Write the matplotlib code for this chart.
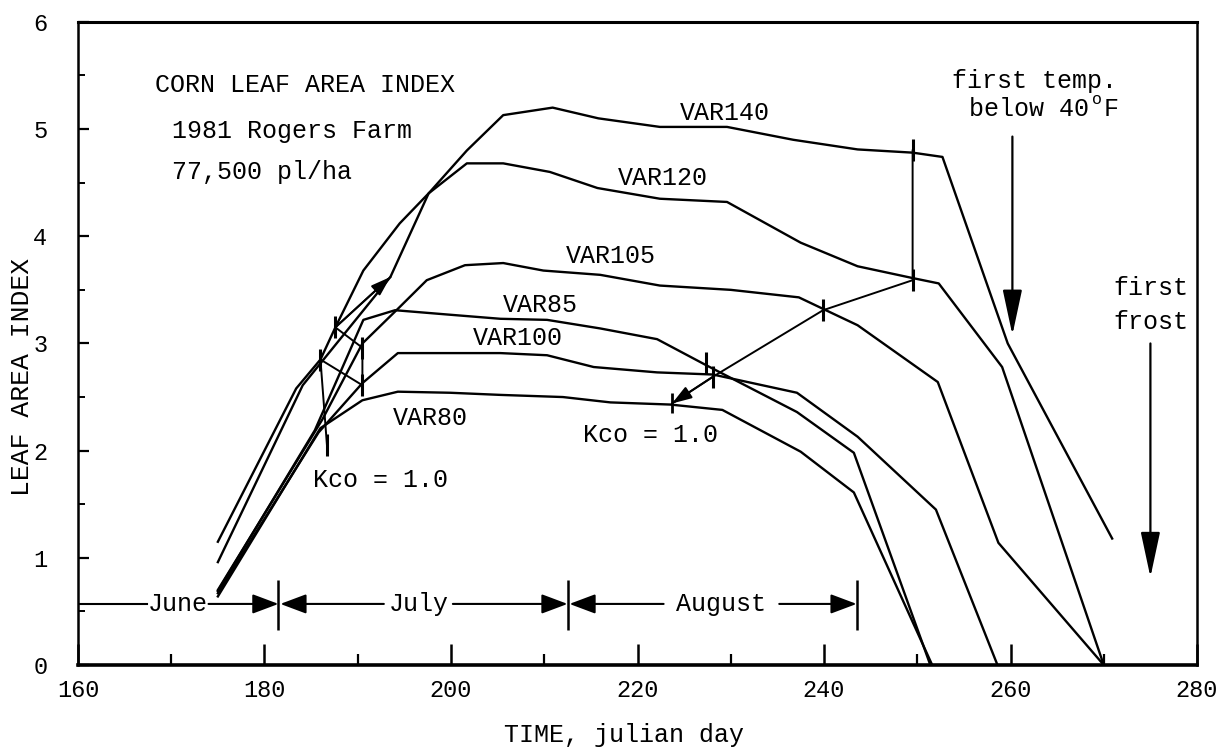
import matplotlib.pyplot as plt
from matplotlib.ticker import MultipleLocator

plt.rcParams['font.family'] = ['Liberation Mono', 'DejaVu Sans Mono']

# leaf area index curves (julian day, LAI)
var140_day = [175, 183.4, 186.0, 187.6, 190.6, 194.5, 197.6, 201.7, 205.6, 210.9, 215.8,
              222.4, 229.6, 236.7, 243.6, 249.5, 252.7, 259.7, 270.9]
var140_lai = [1.15, 2.58, 2.85, 3.15, 3.68, 4.12, 4.40, 4.80, 5.13, 5.20, 5.10,
              5.02, 5.02, 4.90, 4.81, 4.78, 4.74, 3.00, 1.18]

var120_day = [175, 184.1, 193.5, 197.6, 201.7, 205.6, 210.6, 215.7, 222.4, 229.6,
              237.5, 243.6, 249.5, 252.3, 259.1, 270.0]
var120_lai = [0.96, 2.61, 3.62, 4.40, 4.68, 4.68, 4.60, 4.45, 4.35, 4.32,
              3.94, 3.72, 3.61, 3.56, 2.78, 0.0]

var105_day = [175, 186.2, 190.5, 194.5, 197.4, 201.5, 205.6, 209.9, 216.0, 222.4,
              230.0, 237.3, 240.2, 243.6, 252.2, 258.7, 270.0]
var105_lai = [0.70, 2.29, 3.00, 3.34, 3.59, 3.73, 3.75, 3.68, 3.64, 3.54,
              3.50, 3.43, 3.31, 3.17, 2.64, 1.14, 0.0]

var85_day = [175, 185.4, 190.6, 194.0, 199.6, 205.3, 210.3, 216.0, 222.1, 227.3,
             237.1, 243.2, 251.4]
var85_lai = [0.69, 2.19, 3.22, 3.31, 3.27, 3.23, 3.22, 3.14, 3.04, 2.80,
             2.36, 1.98, 0.0]

var100_day = [175, 185.8, 190.5, 194.3, 199.9, 205.3, 210.3, 215.3, 222.1, 228.1,
              237.1, 243.6, 252.0, 258.6]
var100_lai = [0.67, 2.17, 2.63, 2.91, 2.91, 2.91, 2.89, 2.78, 2.73, 2.71,
              2.54, 2.13, 1.45, 0.0]

var80_day = [175, 186.0, 190.5, 194.3, 199.9, 205.3, 212.0, 217.1, 223.5, 229.1,
             237.5, 243.2, 251.6]
var80_lai = [0.64, 2.21, 2.47, 2.55, 2.54, 2.52, 2.50, 2.45, 2.43, 2.38,
             1.99, 1.61, 0.0]

# Kco = 1.0 connector lines
kco_early_day = [186.7, 186.0, 190.5, 190.5, 187.6, 193.5]
kco_early_lai = [2.05, 2.85, 2.61, 2.96, 3.15, 3.62]
kco_late_day = [249.5, 249.5, 239.9, 228.1, 223.7]
kco_late_lai = [4.80, 3.59, 3.31, 2.69, 2.44]

var_names = ['VAR140', 'VAR120', 'VAR105', 'VAR85', 'VAR100', 'VAR80']
var_label_day = [229.4, 222.7, 217.1, 209.6, 207.2, 197.8]
var_label_lai = [5.15, 4.54, 3.82, 3.36, 3.05, 2.30]

month_names = ['June', 'July', 'August']
month_bounds = [160, 181.5, 212.5, 243.5]
month_text_day = [170.7, 196.5, 229.0]
month_gap = [3.3, 3.7, 6.2]  # half width of the gap left for the text
month_y = 0.57

fig = plt.figure(figsize=(12.3, 7.54), dpi=100)
ax = fig.add_axes([0.0634, 0.118, 0.9098, 0.853])

lw = 1.7
curves = [(var140_day, var140_lai), (var120_day, var120_lai), (var105_day, var105_lai),
          (var85_day, var85_lai), (var100_day, var100_lai), (var80_day, var80_lai)]
for d, v in curves:
    ax.plot(d, v, color='black', lw=lw, solid_joinstyle='round')

for name, d, v in zip(var_names, var_label_day, var_label_lai):
    ax.text(d, v, name, fontsize=18, ha='center', va='center')

# Kco connectors with tick marks
ax.plot(kco_early_day, kco_early_lai, color='black', lw=1.4)
ax.plot(kco_early_day[:-1], kco_early_lai[:-1], ls='none', marker='|', ms=16, mew=2.2, color='black')
ax.annotate('', xy=(kco_early_day[-1], kco_early_lai[-1]),
            xytext=(kco_early_day[-2], kco_early_lai[-2]),
            arrowprops=dict(arrowstyle='-|>,head_length=0.6,head_width=0.2', color='black',
                            lw=1.4, mutation_scale=20, shrinkA=0, shrinkB=0))
ax.plot(kco_late_day, kco_late_lai, color='black', lw=1.4)
ax.plot(kco_late_day[:-1], kco_late_lai[:-1], ls='none', marker='|', ms=16, mew=2.2, color='black')
ax.plot([227.3], [2.82], ls='none', marker='|', ms=16, mew=2.2, color='black')
ax.plot([kco_late_day[-1]], [kco_late_lai[-1]], ls='none', marker='|', ms=14, mew=2, color='black')
ax.annotate('', xy=(kco_late_day[-1], kco_late_lai[-1]),
            xytext=(kco_late_day[-2], kco_late_lai[-2]),
            arrowprops=dict(arrowstyle='-|>,head_length=0.6,head_width=0.2', color='black',
                            lw=1.4, mutation_scale=20, shrinkA=0, shrinkB=0))
ax.text(192.4, 1.73, 'Kco = 1.0', fontsize=18, ha='center', va='center')
ax.text(221.4, 2.15, 'Kco = 1.0', fontsize=18, ha='center', va='center')

# month bars along the bottom
arrow_kw = dict(arrowstyle='-|>,head_length=0.8,head_width=0.3', color='black',
                lw=1.5, mutation_scale=20, shrinkA=0, shrinkB=0)
for i, name in enumerate(month_names):
    left, right = month_bounds[i], month_bounds[i + 1]
    c, g = month_text_day[i], month_gap[i]
    ax.text(c, month_y, name, fontsize=18, ha='center', va='center')
    ax.annotate('', xy=(right, month_y), xytext=(c + g, month_y), arrowprops=arrow_kw)
    if i == 0:
        ax.plot([left, c - g], [month_y, month_y], color='black', lw=1.5)
    else:
        ax.annotate('', xy=(left + 0.2, month_y), xytext=(c - g, month_y), arrowprops=arrow_kw)
ax.vlines(month_bounds[1:], month_y - 0.24, month_y + 0.22, color='black', lw=1.8)

# annotations on the right
ax.text(262.6, 5.45, 'first temp.', fontsize=18, ha='center', va='center')
ax.text(255.5, 5.19, 'below 40', fontsize=18, ha='left', va='center')
ax.text(268.75, 5.28, 'o', fontsize=12, ha='left', va='center')
ax.text(270.0, 5.19, 'F', fontsize=18, ha='left', va='center')
ax.annotate('', xy=(260.2, 3.08), xytext=(260.2, 4.93),
            arrowprops=dict(arrowstyle='-|>,head_length=1.4,head_width=0.3', color='black',
                            lw=1.6, mutation_scale=20, shrinkA=0, shrinkB=0))
ax.text(275.0, 3.52, 'first', fontsize=18, ha='center', va='center')
ax.text(275.0, 3.20, 'frost', fontsize=18, ha='center', va='center')
ax.annotate('', xy=(275.0, 0.82), xytext=(275.0, 3.00),
            arrowprops=dict(arrowstyle='-|>,head_length=1.4,head_width=0.3', color='black',
                            lw=1.6, mutation_scale=20, shrinkA=0, shrinkB=0))

# title block
ax.text(168.3, 5.41, 'CORN LEAF AREA INDEX', fontsize=18, ha='left', va='center')
ax.text(170.1, 4.98, '1981 Rogers Farm', fontsize=18, ha='left', va='center')
ax.text(170.1, 4.60, '77,500 pl/ha', fontsize=18, ha='left', va='center')

ax.set_xlim(160, 280)
ax.set_ylim(0, 6)
ax.xaxis.set_major_locator(MultipleLocator(20))
ax.xaxis.set_minor_locator(MultipleLocator(10))
ax.yaxis.set_major_locator(MultipleLocator(1))
ax.yaxis.set_minor_locator(MultipleLocator(0.5))
ax.tick_params(axis='x', which='major', direction='in', length=15, width=1.8, labelsize=17, pad=10)
ax.tick_params(axis='x', which='minor', direction='in', length=8, width=1.6)
ax.tick_params(axis='y', which='major', direction='in', length=8, width=1.6, labelsize=17, pad=22)
ax.tick_params(axis='y', which='minor', direction='in', length=5, width=1.4)
ax.spines['bottom'].set_linewidth(2.6)
ax.spines['top'].set_linewidth(2.2)
ax.spines['left'].set_linewidth(1.8)
ax.spines['right'].set_linewidth(1.8)

fig.text(0.507, 0.025, 'TIME, julian day', fontsize=18, ha='center', va='center')
fig.text(0.018, 0.50, 'LEAF AREA INDEX', fontsize=19, ha='center', va='center', rotation=90)

fig.savefig('out.png', dpi=100)
